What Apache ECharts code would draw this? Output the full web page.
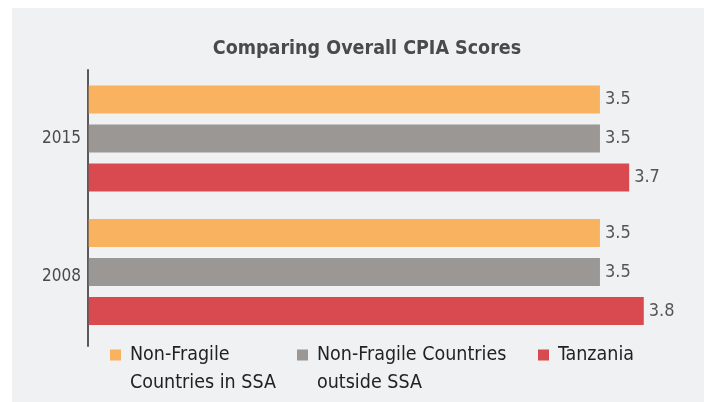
<!DOCTYPE html>
<html>
<head>
<meta charset="utf-8">
<script src="https://cdn.jsdelivr.net/npm/echarts@6/dist/echarts.min.js"></script>
<style>
html,body{margin:0;padding:0;background:#ffffff;}
#chart{width:704px;height:402px;}
</style>
</head>
<body>
<div id="chart"></div>
<script>
var titleText = 'Comparing Overall CPIA Scores';
var categories = ['2015', '2008'];
var seriesNames = ['Non-Fragile Countries in SSA', 'Non-Fragile Countries outside SSA', 'Tanzania'];
var legendLabels = ['Non-Fragile\nCountries in SSA', 'Non-Fragile Countries\noutside SSA', 'Tanzania'];
var nonFragileSSA = [3.5, 3.5];
var nonFragileOutsideSSA = [3.5, 3.5];
var tanzania = [3.7, 3.8];

var colors = ['#F9B25F', '#9B9794', '#D84A50'];
var FONT = '"DejaVu Sans Condensed", "Liberation Sans Narrow", "Liberation Sans", sans-serif';
var values = [nonFragileSSA, nonFragileOutsideSSA, tanzania];

var chart = echarts.init(document.getElementById('chart'), null, {renderer: 'canvas'});

var legendLefts = [110, 297, 538];
var legends = seriesNames.map(function (name, i) {
  var twoLines = legendLabels[i].indexOf('\n') >= 0;
  return {
    show: true,
    data: [name],
    left: legendLefts[i],
    top: twoLines ? 317 : 345,
    padding: 0,
    icon: 'rect',
    itemWidth: 11,
    itemHeight: 11,
    formatter: function () {
      // leading blank line keeps the marker beside the first text line
      return twoLines ? '{s|}\n' + legendLabels[i].split('\n').map(function (t) { return '{t|' + t + '}'; }).join('\n') : '{t|' + legendLabels[i] + '}';
    },
    textStyle: {
      rich: {
        s: {fontFamily: FONT, fontSize: 19.5, lineHeight: 28},
        t: {fontFamily: FONT, fontSize: 19.5, lineHeight: 28, color: '#222222', padding: [0, 0, 0, 4]}
      }
    },
    selectedMode: false
  };
});

var option = {
  animation: false,
  backgroundColor: '#ffffff',
  graphic: [{
    type: 'rect',
    z: -100,
    silent: true,
    shape: {x: 12, y: 8, width: 692, height: 394},
    style: {fill: '#F0F1F3'}
  }],
  title: {
    text: titleText,
    left: 367,
    top: 38.5,
    padding: 0,
    textAlign: 'center',
    textStyle: {fontFamily: FONT, fontSize: 19.5, fontWeight: 'bold', color: '#4A4A4A'}
  },
  legend: legends,
  grid: [
    {left: 88, right: 31, top: 70, bottom: 56},
    {left: 88.7, right: 31, top: 71.75, bottom: 63.25}
  ],
  xAxis: [
    {gridIndex: 0, type: 'value', min: 0, max: 4, show: false},
    {gridIndex: 1, type: 'value', min: 0, max: 4, show: false}
  ],
  yAxis: [
    {
      gridIndex: 0, type: 'category', data: categories, inverse: true,
      axisLine: {show: true, lineStyle: {color: '#5A5A5A', width: 2}},
      axisTick: {show: false},
      splitLine: {show: false},
      axisLabel: {margin: 7, fontFamily: FONT, fontSize: 17, color: '#4A4A4A', padding: [4, 0, 0, 0]}
    },
    {
      gridIndex: 1, type: 'category', data: categories, inverse: true, show: false
    }
  ],
  series: seriesNames.map(function (name, i) {
    return {
      name: name,
      type: 'bar',
      xAxisIndex: 1,
      yAxisIndex: 1,
      data: values[i],
      barWidth: 28,
      barGap: '39%',
      itemStyle: {color: colors[i]},
      label: {
        show: true,
        position: 'right',
        distance: 5,
        fontFamily: FONT,
        fontSize: 18,
        color: '#555555',
        formatter: function (p) { return Number(p.value).toFixed(1); }
      }
    };
  })
};
chart.setOption(option);
</script>
</body>
</html>
